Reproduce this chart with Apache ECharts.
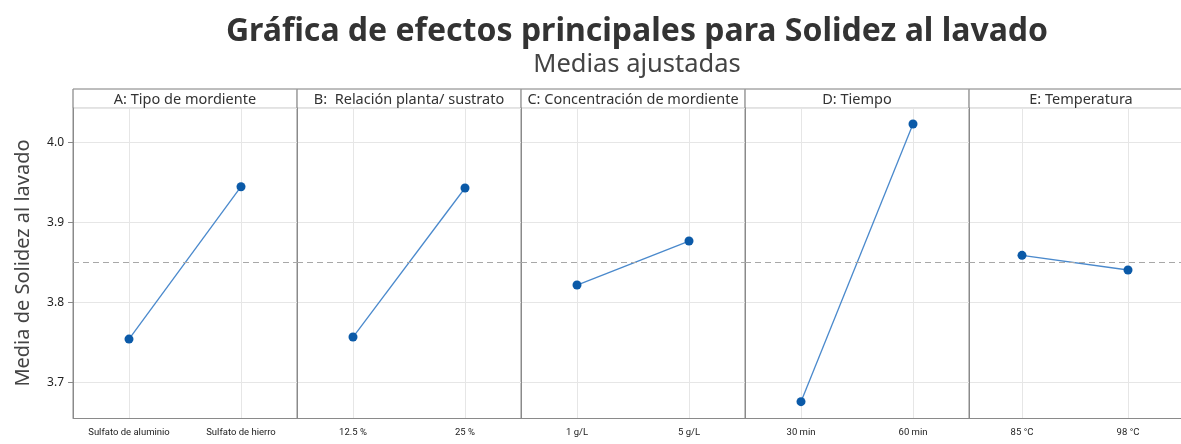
<!DOCTYPE html>
<html>
<head>
<meta charset="utf-8">
<script src="https://cdn.jsdelivr.net/npm/echarts@6/dist/echarts.min.js"></script>
<style>
  html, body { margin: 0; padding: 0; background: #fff; }
  #chart { width: 1181px; height: 444px; }
</style>
</head>
<body>
<div id="chart"></div>
<script>
// factores y niveles
const panelTitles = ['A: Tipo de mordiente', 'B:  Relación planta/ sustrato', 'C: Concentración de mordiente', 'D: Tiempo', 'E: Temperatura'];
const levels = [
  ['Sulfato de aluminio', 'Sulfato de hierro'],
  ['12.5 %', '25 %'],
  ['1 g/L', '5 g/L'],
  ['30 min', '60 min'],
  ['85 °C', '98 °C']
];
// medias ajustadas
const meansA = [3.754, 3.9445];
const meansB = [3.7566, 3.9429];
const meansC = [3.8216, 3.8766];
const meansD = [3.6758, 4.0229];
const meansE = [3.8587, 3.8404];
const allMeans = [meansA, meansB, meansC, meansD, meansE];
const grandMean = 3.8487;
const yMin = 3.6554, yMax = 4.0429;

const font = 'Noto Sans';
const panelW = 224, left0 = 73, top0 = 108, headerTop = 89;

var grids = [], xAxes = [], yAxes = [], series = [], graphics = [];
for (var i = 0; i < 5; i++) {
  var x0 = left0 + i * panelW;
  grids.push({ left: x0, top: top0, width: panelW, bottom: 26 });
  xAxes.push({
    type: 'category', gridIndex: i, data: levels[i], boundaryGap: true,
    axisLine: { lineStyle: { color: '#8a8a8a' } },
    axisTick: { alignWithLabel: true, length: 6, lineStyle: { color: '#8a8a8a' } },
    axisLabel: { fontFamily: 'Roboto', fontSize: 9.5, color: '#222', margin: 10, interval: 0 },
    splitLine: { show: true, alignWithLabel: true, lineStyle: { color: '#e6e6e6' } }
  });
  yAxes.push({
    type: 'value', gridIndex: i, min: yMin, max: yMax,
    name: i === 0 ? 'Media de Solidez al lavado' : '',
    nameLocation: 'middle', nameGap: 40,
    nameTextStyle: { fontFamily: font, fontSize: 20, color: '#444' },
    axisLine: { show: true, lineStyle: { color: '#8a8a8a' } },
    axisTick: { show: i === 0, length: 5, lineStyle: { color: '#8a8a8a' } },
    axisLabel: {
      show: i === 0, fontFamily: font, fontSize: 12, color: '#222', margin: 9,
      showMinLabel: false, showMaxLabel: false,
      formatter: function (v) { return v.toFixed(1); }
    },
    splitLine: { show: true, lineStyle: { color: '#e6e6e6' } }
  });
  series.push({
    type: 'line', xAxisIndex: i, yAxisIndex: i, data: allMeans[i],
    symbol: 'circle', symbolSize: 9,
    lineStyle: { color: '#4a89cc', width: 1.3 },
    itemStyle: { color: '#0b5aa8' },
    markLine: {
      silent: true, symbol: 'none', label: { show: false },
      lineStyle: { color: '#a8a8a8', type: [6, 4], width: 1 },
      data: [{ yAxis: grandMean }]
    }
  });
  graphics.push({
    type: 'rect', shape: { x: x0, y: headerTop, width: panelW, height: top0 - headerTop },
    style: { fill: '#fff', stroke: '#c4c4c4', lineWidth: 1 }
  });
  graphics.push({
    type: 'line', shape: { x1: x0, y1: headerTop, x2: x0 + panelW, y2: headerTop },
    style: { stroke: '#9a9a9a', lineWidth: 1 }
  });
  graphics.push({
    type: 'line', shape: { x1: x0, y1: headerTop, x2: x0, y2: 418 },
    style: { stroke: '#8a8a8a', lineWidth: 1 }
  });
  graphics.push({
    type: 'text', x: x0 + panelW / 2, y: (headerTop + top0) / 2 + 1,
    style: { text: panelTitles[i], fontFamily: font, fontSize: 14.5, fill: '#333', align: 'center', verticalAlign: 'middle' }
  });
}

var myChart = echarts.init(document.getElementById('chart'));
myChart.setOption({
  backgroundColor: '#fff',
  animation: false,
  title: [{
    text: 'Gráfica de efectos principales para Solidez al lavado',
    left: 632, top: 11, textAlign: 'center',
    textStyle: { fontFamily: font, fontSize: 32, fontWeight: 'bold', color: '#333' }
  }, {
    text: 'Medias ajustadas',
    left: 632, top: 47, textAlign: 'center',
    textStyle: { fontFamily: font, fontSize: 25.5, fontWeight: 'normal', color: '#444' }
  }],
  grid: grids,
  xAxis: xAxes,
  yAxis: yAxes,
  series: series,
  graphic: graphics
});
</script>
</body>
</html>
